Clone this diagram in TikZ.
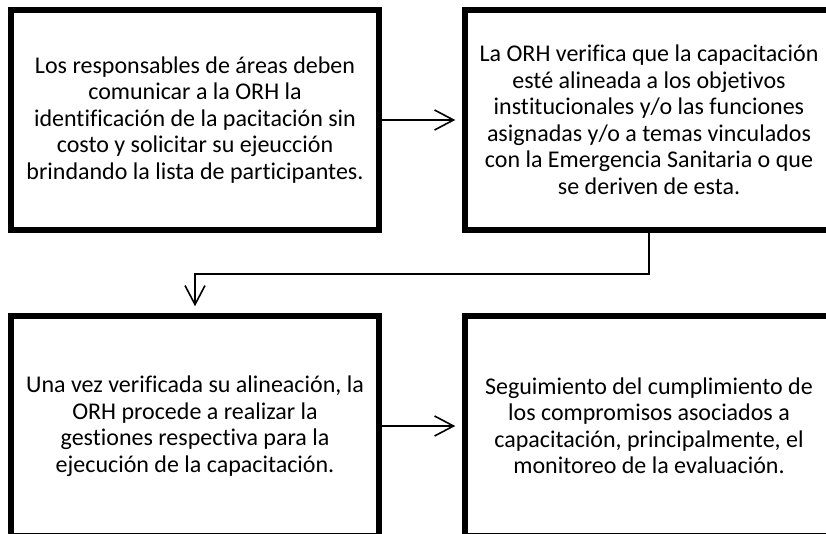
\documentclass[tikz,border=0pt]{standalone}
\usepackage{fontspec}
\setmainfont[Ligatures=NoCommon]{Carlito}
\usepackage{tikz}
\usetikzlibrary{arrows.meta,positioning}
\tikzstyle{arrow} = [line width=1.6pt,-{Straight Barb[length=19pt,width=20pt,line width=1.6pt]},shorten >=7pt]
\tikzstyle{stepnode} = [rectangle, draw=black, line width=5.5pt, minimum width=368pt, minimum height=220pt, inner sep=0pt, align=center, font=\fontsize{24}{26.5}\selectfont]

\begin{document}
\begin{tikzpicture}[x=1pt,y=-1pt]
\useasboundingbox (0,0) rectangle (826,533);
% Nodes
\node[stepnode] (solicitud) at (195,120) {Los responsables de áreas deben\\comunicar a la ORH la\\identificación de la pacitación sin\\costo y solicitar su ejeucción\\brindando la lista de participantes.};
\node[stepnode] (verifica) at (649,120) {La ORH verifica que la capacitación\\esté alineada a los objetivos\\institucionales y/o las funciones\\asignadas y/o a temas vinculados\\con la Emergencia Sanitaria o que\\se deriven de esta.};
\node[stepnode] (gestion) at (195,426) {Una vez verificada su alineación, la\\ORH procede a realizar la\\gestiones respectiva para la\\ejecución de la capacitación.};
\node[stepnode] (seguimiento) at (649,426) {Seguimiento del cumplimiento de\\los compromisos asociados a\\capacitación, principalmente, el\\monitoreo de la evaluación.};

% Connectors
\draw[arrow] (solicitud) -- (verifica);
\draw[arrow] (verifica.south) -- ++(0,41) -| (gestion.north);
\draw[arrow] (gestion) -- (seguimiento);
\end{tikzpicture}
\end{document}
